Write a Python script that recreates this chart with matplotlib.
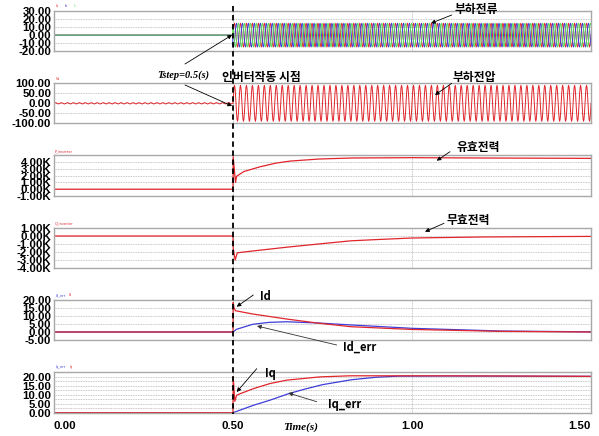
import numpy as np
import matplotlib.pyplot as plt
from matplotlib import transforms
from matplotlib.lines import Line2D

plt.rcParams['axes.unicode_minus'] = False

W, H = 599, 436

# 시간축
x_ticks = [0.0, 0.5, 1.0, 1.5]
x_tick_labels = ['0.00', '0.50', '1.00', '1.50']
t_step = 0.5   # 인버터 작동 시점
t_end = 1.5
f_grid = 60.0
# 교류 파형 한 주기 (정규화, 12 샘플)
cycle_shape = [0.0, 0.5, 0.87, 1.0, 0.87, 0.5, 0.0, -0.5, -0.87, -1.0, -0.87, -0.5]
i_load_amp = 15.0    # 부하전류 진폭 [A]
v_load_amp = 90.0    # 부하전압 진폭 [V]
v_ripple_amp = 3.0   # 작동 전 전압 리플

# 유효전력 P
p_t = [0.0, 0.5, 0.5005, 0.507, 0.51, 0.53, 0.575, 0.62, 0.66, 0.74, 0.83, 1.0, 1.2, 1.5]
p_val = [0, 0, 4800, 1000, 1900, 2600, 3300, 3850, 4150, 4450, 4600, 4650, 4600, 4550]
# 무효전력 Q
q_t = [0.0, 0.5, 0.5005, 0.506, 0.512, 0.55, 0.65, 0.75, 0.83, 0.9, 1.0, 1.2, 1.5]
q_val = [0, 0, -1500, -3000, -2100, -1900, -1400, -950, -600, -450, -250, -120, -50]
# Id, Id_err
id_t = [0.0, 0.5, 0.5005, 0.503, 0.507, 0.555, 0.65, 0.743, 0.83, 1.0, 1.25, 1.5]
id_val = [0, 0, 18.5, 15.0, 13.3, 11.25, 8.1, 5.4, 3.3, 1.6, 0.4, 0.0]
id_err_t = [0.0, 0.5, 0.51, 0.555, 0.6, 0.65, 0.74, 0.83, 1.0, 1.25, 1.5]
id_err_val = [0, 0, 1.7, 4.8, 6.0, 6.4, 5.6, 4.4, 2.3, 0.6, 0.1]
# Iq, Iq_err
iq_t = [0.0, 0.5, 0.5005, 0.505, 0.51, 0.52, 0.557, 0.603, 0.65, 0.743, 0.827, 1.0, 1.25, 1.5]
iq_val = [0, 0, 19.8, 6.3, 9.6, 10.5, 13.3, 16.1, 18.0, 19.8, 20.4, 20.4, 20.3, 20.1]
iq_err_t = [0.0, 0.5, 0.557, 0.603, 0.655, 0.7, 0.75, 0.83, 0.9, 0.96, 1.1, 1.5]
iq_err_val = [0, 0, 4.1, 6.9, 10.5, 13.0, 15.5, 18.2, 19.6, 20.2, 20.3, 20.1]

# y축 눈금
i_yticks = [30, 20, 10, 0, -10, -20]
v_yticks = [100, 50, 0, -50, -100]
p_yticks = [4000, 3000, 2000, 1000, 0, -1000]
q_yticks = [1000, 0, -1000, -2000, -3000, -4000]
id_yticks = [20, 15, 10, 5, 0, -5]
iq_yticks = [20, 15, 10, 5, 0]

RED = '#e0252b'
BLUE = '#3d3dd8'
GREEN = '#5cdc5c'
GRID = '#b4b4b4'
FRAME = '#a8a8a8'
KR = 'Noto Sans CJK KR'


def fx(px):
    return px / W


def fy(py):
    return 1 - py / H


# 교류 파형 만들기
n_cyc = int(round(t_end * f_grid))
n_per = len(cycle_shape)
t_ac = np.arange(n_cyc * n_per + 1) / (n_per * f_grid)
shape = np.array(cycle_shape)
after = t_ac >= t_step
ia = np.append(np.tile(shape, n_cyc), shape[0]) * i_load_amp * after
ib = np.append(np.tile(np.roll(shape, 4), n_cyc), np.roll(shape, 4)[0]) * i_load_amp * after
ic = np.append(np.tile(np.roll(shape, 8), n_cyc), np.roll(shape, 8)[0]) * i_load_amp * after
va_wave = np.append(np.tile(shape, n_cyc), shape[0])
va = np.where(after, va_wave * v_load_amp, va_wave * v_ripple_amp)

fig = plt.figure(figsize=(W / 100, H / 100), dpi=100)

panel_px = [(11.3, 51), (83.3, 123.3), (155.3, 196), (228, 268), (300, 340), (372, 412.7)]
axes = []
for top, bot in panel_px:
    ax = fig.add_axes([fx(54), fy(bot), fx(591) - fx(54), (bot - top) / H])
    ax.set_xlim(0, t_end)
    ax.set_xticks(x_ticks)
    ax.set_xticklabels([])
    for s in ax.spines.values():
        s.set_color(FRAME)
        s.set_linewidth(1.0)
    ax.tick_params(length=0, pad=2)
    ax.grid(True, which='both', color=GRID, linestyle=(0, (1, 1)), linewidth=0.6)
    ax.set_axisbelow(True)
    axes.append(ax)

tick_font = dict(family='Liberation Sans', weight='bold', size=8.2)


def set_y(ax, lo, hi, ticks, k=False):
    ax.set_ylim(lo, hi)
    ax.set_yticks(ticks)
    if k:
        ax.set_yticklabels(['%.2fK' % (v / 1000) for v in ticks], **tick_font)
    else:
        ax.set_yticklabels(['%.2f' % v for v in ticks], **tick_font)


# 1. 부하전류
ax = axes[0]
ax.plot(t_ac, ia, color=RED, lw=0.7)
ax.plot(t_ac, ib, color=BLUE, lw=0.7)
ax.plot(t_ac, ic, color=GREEN, lw=0.7)
set_y(ax, -20, 30, i_yticks)

# 2. 부하전압
ax = axes[1]
ax.plot(t_ac, va, color=RED, lw=0.7)
set_y(ax, -100, 100, v_yticks)

# 3. 유효전력
ax = axes[2]
ax.plot(p_t, p_val, color=RED, lw=0.9)
set_y(ax, -1000, 5000, p_yticks, k=True)

# 4. 무효전력
ax = axes[3]
ax.plot(q_t, q_val, color=RED, lw=0.9)
set_y(ax, -4000, 1000, q_yticks, k=True)

# 5. Id
ax = axes[4]
ax.plot(id_err_t, id_err_val, color=BLUE, lw=0.9)
ax.plot(id_t, id_val, color=RED, lw=0.9)
set_y(ax, -5, 20, id_yticks)

# 6. Iq
ax = axes[5]
ax.plot(iq_err_t, iq_err_val, color=BLUE, lw=0.9)
ax.plot(iq_t, iq_val, color=RED, lw=0.9)
set_y(ax, 0, 22.5, iq_yticks)
ax.set_yticks(np.arange(2.5, 22.5, 2.5), minor=True)
ax.tick_params(which='minor', length=0)
ax.set_xticklabels(x_tick_labels, **tick_font)
xl = ax.get_xticklabels()
xl[0].set_ha('left')
xl[-1].set_ha('right')
ax.tick_params(axis='x', pad=6)

# 작은 범례 표시
tiny = [(56, 6, 'Ia', RED), (65, 6, 'Ib', BLUE), (74, 6, 'Ic', GREEN),
        (56, 79, 'Va', RED), (55, 151, 'P_inverter', RED), (55, 223, 'Q_inverter', RED),
        (56, 295, 'Id_err', BLUE), (69, 295, 'Id', RED),
        (56, 367, 'Iq_err', BLUE), (70, 367, 'Iq', RED)]
for px, py, s, c in tiny:
    fig.text(fx(px), fy(py), s, color=c, fontsize=2.5, va='center')

# 작동 시점 점선
blend = transforms.blended_transform_factory(axes[0].transData, fig.transFigure)
fig.add_artist(Line2D([t_step, t_step], [fy(6), fy(414)], transform=blend,
                      color='black', lw=1.3, dashes=(3, 2), zorder=5))

# 주석
arrow_kw = dict(arrowstyle='-|>', color='black', lw=0.6, mutation_scale=6,
                shrinkA=0, shrinkB=0)


def arrow(x0, y0, x1, y1, color='black'):
    kw = dict(arrow_kw)
    kw['color'] = color
    fig.add_artist(plt.matplotlib.patches.FancyArrowPatch(
        (fx(x0), fy(y0)), (fx(x1), fy(y1)), transform=fig.transFigure, zorder=6, **kw))


kr_font = dict(family=[KR, 'DejaVu Sans'], weight='bold', size=8.5)
fig.text(fx(455), fy(10), '부하전류', va='center', **kr_font)
arrow(451.7, 15, 431, 23.3)
fig.text(fx(453), fy(77), '부하전압', va='center', **kr_font)
arrow(451.7, 83.3, 435, 95)
fig.text(fx(457), fy(148), '유효전력', va='center', **kr_font)
arrow(450, 151.7, 436.7, 160.7)
fig.text(fx(447), fy(220), '무효전력', va='center', **kr_font)
arrow(444, 223.3, 425, 231.7)

fig.text(fx(222), fy(77), '인버터작동 시점', va='center', zorder=7, **kr_font)
fig.text(fx(183), fy(75), 'Tstep=0.5(s)', ha='center', va='center',
         family='Liberation Serif', style='italic', weight='bold', size=7.5)
arrow(185, 64, 232, 35)
arrow(185, 85, 232, 106)

lat_font = dict(family=[KR, 'DejaVu Sans'], weight='bold', size=8)
fig.text(fx(260), fy(296), 'Id', va='center', **lat_font)
arrow(253.3, 295, 236.7, 306.7)
fig.text(fx(343), fy(347), 'Id_err', va='center', **lat_font)
arrow(336.7, 345, 257, 326, color='#333333')
fig.text(fx(265), fy(373), 'Iq', va='center', **lat_font)
arrow(256.7, 368.7, 236.7, 392)
fig.text(fx(328), fy(404), 'Iq_err', va='center', **lat_font)
arrow(316.7, 401.7, 288.3, 393, color='#333333')

fig.text(fx(283), fy(427), 'Time(s)', va='center', family='Liberation Serif',
         style='italic', weight='bold', size=8)

fig.savefig('out.png', dpi=100)
